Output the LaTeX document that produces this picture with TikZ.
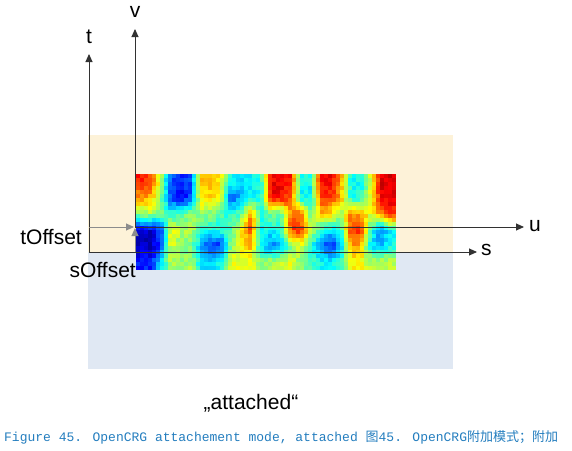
\documentclass[tikz,border=0pt]{standalone}
\usepackage{fontspec}
\setmainfont{Liberation Sans}
\newfontfamily\capmono{Liberation Mono}
\newfontfamily\capcjk{Noto Sans CJK SC}
\usetikzlibrary{arrows.meta}
\definecolor{creambg}{RGB}{253,242,216}
\definecolor{bluebg}{RGB}{224,232,243}
\definecolor{axisc}{RGB}{50,50,50}
\definecolor{offc}{RGB}{140,140,140}
\definecolor{capc}{RGB}{35,125,190}
\tikzset{
  axis/.style={draw=axisc, line width=0.9pt, -{Triangle[length=8pt,width=7pt]}},
  offarrow/.style={draw=offc, line width=0.9pt, -{Triangle[length=8pt,width=7pt]}},
  lbl/.style={font=\fontsize{21}{24}\selectfont, inner sep=0pt, text=black},
}
\begin{document}
\begin{tikzpicture}[x=1pt,y=-1pt]
\useasboundingbox (0,0) rectangle (572,450);
% background bands
\fill[creambg] (88,135) rectangle (453,252);
\fill[bluebg] (88,252) rectangle (453,369);
% heat map values (6 rows x 26 cols)
\foreach \val [count=\n from 0] in {
0.85,0.82,0.55,0.2,0.15,0.2,0.68,0.7,0.62,0.38,0.35,0.38,0.4,0.88,0.9,0.85,0.4,0.38,0.88,0.9,0.72,0.38,0.38,0.6,0.92,0.9,
0.72,0.7,0.5,0.18,0.12,0.2,0.65,0.66,0.6,0.22,0.3,0.38,0.38,0.88,0.86,0.8,0.38,0.36,0.8,0.82,0.7,0.4,0.4,0.6,0.88,0.88,
0.5,0.55,0.5,0.42,0.45,0.5,0.52,0.5,0.45,0.4,0.45,0.75,0.4,0.5,0.45,0.75,0.78,0.45,0.7,0.65,0.5,0.75,0.7,0.6,0.75,0.85,
0.1,0.08,0.2,0.62,0.55,0.55,0.45,0.4,0.42,0.45,0.65,0.8,0.4,0.38,0.4,0.82,0.82,0.6,0.4,0.35,0.4,0.85,0.85,0.4,0.25,0.38,
0.06,0.05,0.2,0.6,0.5,0.5,0.3,0.15,0.18,0.5,0.6,0.7,0.35,0.25,0.3,0.5,0.6,0.4,0.25,0.15,0.3,0.72,0.68,0.35,0.3,0.4,
0.15,0.15,0.35,0.55,0.5,0.55,0.35,0.35,0.4,0.6,0.6,0.6,0.5,0.55,0.55,0.6,0.5,0.45,0.38,0.38,0.45,0.62,0.62,0.55,0.55,0.55}
{\expandafter\xdef\csname hv\n\endcsname{\val}}
\pgfmathsetseed{7}
\foreach \i in {0,...,64}{
  \foreach \j in {0,...,23}{
    \pgfmathsetmacro\cx{max(0,min(25,0.4*\i-0.3))}
    \pgfmathsetmacro\cy{max(0,min(5,0.25*\j-0.375))}
    \pgfmathtruncatemacro\ia{floor(\cx)}
    \pgfmathtruncatemacro\ib{min(\ia+1,25)}
    \pgfmathtruncatemacro\ja{floor(\cy)}
    \pgfmathtruncatemacro\jb{min(\ja+1,5)}
    \pgfmathsetmacro\tx{\cx-\ia}
    \pgfmathsetmacro\ty{\cy-\ja}
    \edef\vaa{\csname hv\number\numexpr\ja*26+\ia\endcsname}
    \edef\vab{\csname hv\number\numexpr\ja*26+\ib\endcsname}
    \edef\vba{\csname hv\number\numexpr\jb*26+\ia\endcsname}
    \edef\vbb{\csname hv\number\numexpr\jb*26+\ib\endcsname}
    \pgfmathsetmacro\vv{(1-\ty)*((1-\tx)*\vaa+\tx*\vab)+\ty*((1-\tx)*\vba+\tx*\vbb)+0.08*(rnd-0.5)}
    \pgfmathsetmacro\cR{max(0,min(1,1.5-abs(4*\vv-3)))}
    \pgfmathsetmacro\cG{max(0,min(1,1.5-abs(4*\vv-2)))}
    \pgfmathsetmacro\cB{max(0,min(1,1.5-abs(4*\vv-1)))}
    \definecolor{hc}{rgb}{\cR,\cG,\cB}
    \fill[hc] ({136+4*\i},{174+4*\j}) rectangle ++(4.3,4.3);
  }
}
% coordinates
\coordinate (st) at (89,252);
\coordinate (tend) at (89,54);
\coordinate (send) at (477,252);
\coordinate (uv) at (135,227);
\coordinate (vend) at (135,29);
\coordinate (uend) at (524,227);
\coordinate (tu) at (89,227);
\coordinate (uvl) at (134,227);
\coordinate (sv) at (135,252);
\coordinate (uvb) at (135,228);
% axes
\draw[axis] (st) -- (tend);
\draw[axis] (st) -- (send);
\draw[axis] (uv) -- (vend);
\draw[axis] (uv) -- (uend);
% offsets
\draw[offarrow] (tu) -- (uvl);
\draw[offarrow] (sv) -- (uvb);
% labels
\node[lbl] (tl) at (89,37) {t};
\node[lbl] (vl) at (135,12) {v};
\node[lbl, anchor=west] (ul) at (529,226) {u};
\node[lbl, anchor=west] (sl) at (481,250) {s};
\node[lbl, anchor=east] (tofs) at (82,237) {tOffset};
\node[lbl, anchor=east] (sofs) at (136,270) {sOffset};
\node[lbl] (att) at (251,403) {„attached“};
\node[anchor=west, inner sep=0pt, text=capc, font=\fontsize{13}{15}\selectfont] (cap) at (4,437)
  {\capmono Figure 45. OpenCRG attachement mode, attached \capcjk 图\capmono 45. OpenCRG\capcjk 附加模式；附加};
\end{tikzpicture}
\end{document}
